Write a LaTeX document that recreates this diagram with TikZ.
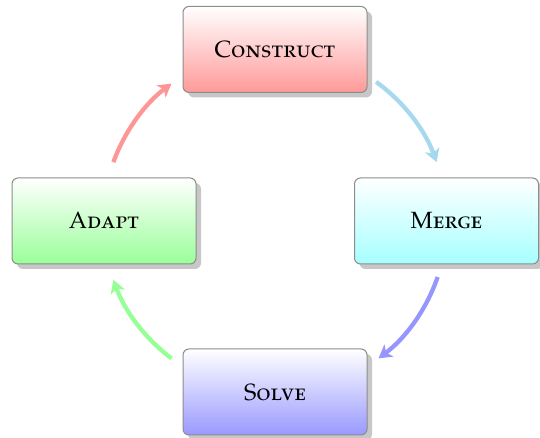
\documentclass[tikz,border=0pt]{standalone}
\usepackage[T1]{fontenc}
\usepackage[sc]{mathpazo}
\usetikzlibrary{shadows,arrows.meta}
\definecolor{flowcyan}{RGB}{166,216,238}
\definecolor{flowblue}{RGB}{150,150,255}
\definecolor{flowgreen}{RGB}{150,255,150}
\definecolor{flowred}{RGB}{255,150,150}
\begin{document}
\begin{tikzpicture}[x=1pt,y=1pt,
  module/.style={draw=black!45, line width=1pt, rounded corners=6pt,
    minimum width=184pt, minimum height=86pt, top color=white,
    font=\fontsize{23.5}{28}\selectfont\scshape,
    drop shadow={shadow xshift=5pt, shadow yshift=-5pt, fill=black!40, opacity=0.55}},
  flow/.style={line width=4.3pt, -{Stealth[length=13pt,width=15pt,inset=3.5pt]}}]
\useasboundingbox (0,0) rectangle (540,438);
% the four stages
\node[module, bottom color=red!40]   (construct) at (275,388.5) {Construct};
\node[module, bottom color=cyan!35]  (merge)     at (446.5,217) {Merge};
\node[module, bottom color=blue!40]  (solve)     at (275,46)    {Solve};
\node[module, bottom color=green!40] (adapt)     at (104,217)   {Adapt};
% the cycle arrows lie on one circle round the hub
\coordinate (hub) at (275,217);
\coordinate (r0) at ([shift={(hub)}]160:172);
\coordinate (c0) at ([shift={(hub)}]54:172);
\coordinate (m0) at ([shift={(hub)}]-19:172);
\coordinate (s0) at ([shift={(hub)}]-127:172);
\draw[flow, flowred]   (r0) arc[start angle=160,  end angle=127,  radius=172];
\draw[flow, flowcyan]  (c0) arc[start angle=54,   end angle=20,   radius=172];
\draw[flow, flowblue]  (m0) arc[start angle=-19,  end angle=-53,  radius=172];
\draw[flow, flowgreen] (s0) arc[start angle=-127, end angle=-160, radius=172];
\end{tikzpicture}
\end{document}
